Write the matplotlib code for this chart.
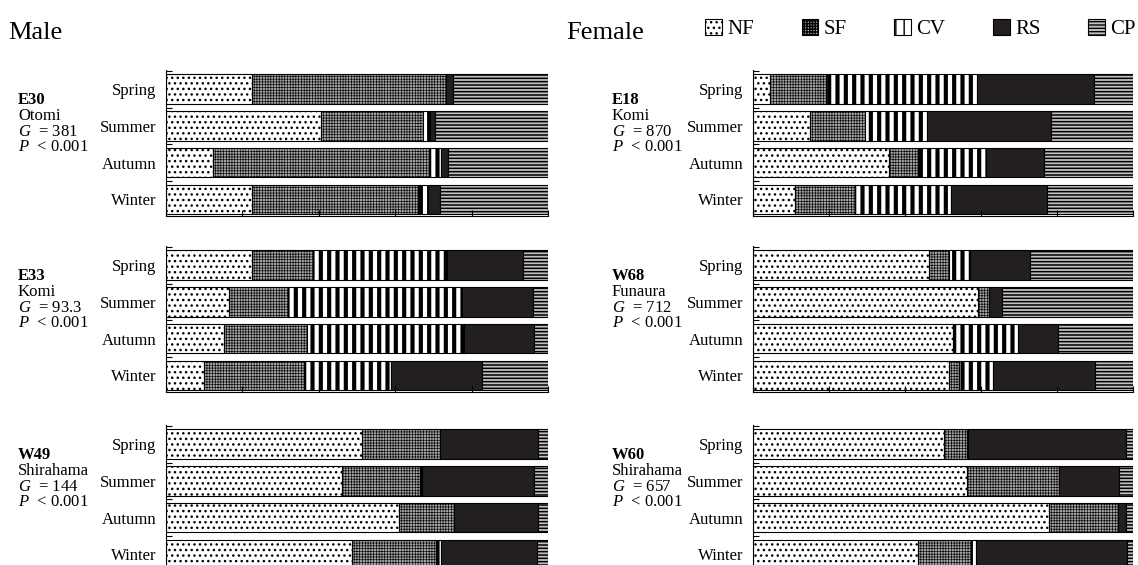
import matplotlib as mpl
mpl.use('Agg')
import matplotlib.pyplot as plt
from matplotlib.patches import Patch

plt.rcParams['font.family'] = ['Liberation Serif', 'DejaVu Serif']
plt.rcParams['mathtext.fontset'] = 'custom'
plt.rcParams['mathtext.rm'] = 'Liberation Serif'
plt.rcParams['mathtext.it'] = 'Liberation Serif:italic'
plt.rcParams['hatch.linewidth'] = 1.0

seasons = ['Spring', 'Summer', 'Autumn', 'Winter']
cats = ['NF', 'SF', 'CV', 'RS', 'CP']

# percentages per season, columns NF SF CV RS CP
e30 = [[22.6, 50.6, 0.0, 2.0, 24.8],
       [40.6, 26.7, 1.8, 1.2, 29.7],
       [12.2, 56.7, 3.0, 1.9, 26.2],
       [22.5, 43.4, 2.8, 3.0, 28.3]]
e33 = [[22.5, 15.9, 35.2, 19.9, 6.5],
       [16.4, 15.6, 45.4, 18.7, 3.9],
       [15.3, 21.6, 41.1, 18.4, 3.6],
       [10.0, 26.1, 22.9, 23.7, 17.3]]
w49 = [[51.4, 20.4, 0.0, 25.6, 2.6],
       [46.0, 20.6, 0.5, 29.2, 3.7],
       [60.9, 14.5, 0.0, 22.0, 2.6],
       [48.6, 22.1, 1.2, 25.3, 2.8]]
e18 = [[4.6, 14.7, 39.6, 30.8, 10.3],
       [14.9, 14.7, 16.1, 32.6, 21.7],
       [35.8, 7.7, 17.7, 15.5, 23.3],
       [11.0, 15.9, 25.3, 25.2, 22.6]]
w68 = [[46.2, 5.5, 5.3, 16.0, 27.0],
       [59.2, 2.9, 0.0, 3.4, 34.5],
       [52.5, 0.4, 16.8, 10.6, 19.7],
       [51.5, 2.6, 9.0, 27.0, 9.9]]
w60 = [[50.3, 6.0, 0.3, 41.6, 1.8],
       [56.3, 24.2, 0.0, 15.9, 3.6],
       [77.9, 18.2, 0.0, 2.1, 1.8],
       [43.5, 13.8, 1.3, 39.8, 1.6]]

male_ids = ['E30', 'E33', 'W49']
male_sites = ['Otomi', 'Komi', 'Shirahama']
male_g = ['381', '93.3', '144']
female_ids = ['E18', 'W68', 'W60']
female_sites = ['Komi', 'Funaura', 'Shirahama']
female_g = ['870', '712', '657']

styles = {
    'NF': dict(facecolor='white', hatch='...', hlw=1.0),
    'SF': dict(facecolor='#a6a6a6', hatch='++++++', hlw=0.45),
    'CV': dict(facecolor='white', hatch='||', hlw=3.0),
    'RS': dict(facecolor='#231f20', hatch=None, hlw=1.0),
    'CP': dict(facecolor='#c0c0c0', hatch='-----', hlw=1.1),
}


def style_patch(p, c):
    st = styles[c]
    p.set_facecolor(st['facecolor'])
    p.set_edgecolor('black')
    if st['hatch']:
        p.set_hatch(st['hatch'])
        if hasattr(p, 'set_hatch_linewidth'):
            p.set_hatch_linewidth(st['hlw'])


W, H = 1138, 565
fig = plt.figure(figsize=(W / 100, H / 100), dpi=100)


def panel(x0, x1, top, bottom, data, name, site, g, tx):
    ax = fig.add_axes([x0 / W, 1 - bottom / H, (x1 - x0) / W, (bottom - top) / H])
    left = [0.0] * len(seasons)
    for j, c in enumerate(cats):
        vals = [row[j] for row in data]
        bars = ax.barh(range(len(seasons)), vals, left=left, height=0.8,
                       linewidth=0.8)
        for b in bars:
            style_patch(b, c)
        left = [l + v for l, v in zip(left, vals)]
    ax.set_xlim(0, 100)
    ax.set_ylim(3.45, -0.52)
    ax.set_xticks([0, 20, 40, 60, 80, 100])
    ax.set_xticklabels([])
    ax.set_yticks([-0.5, 0.5, 1.5, 2.5])
    ax.set_yticklabels([])
    ax.set_yticks(range(len(seasons)), minor=True)
    ax.set_yticklabels(seasons, minor=True, fontsize=12)
    ax.tick_params(axis='y', which='minor', length=0, pad=7)
    ax.tick_params(axis='both', which='major', direction='in', length=4,
                   width=0.8)
    for s in ['top', 'right']:
        ax.spines[s].set_visible(False)
    for s in ['left', 'bottom']:
        ax.spines[s].set_linewidth(0.8)
    y = top + 30
    fig.text(tx / W, 1 - y / H, name, fontsize=12, fontweight='bold',
             va='center')
    fig.text(tx / W, 1 - (y + 16) / H, site, fontsize=12, va='center')
    fig.text(tx / W, 1 - (y + 32) / H, r'$\it{G}$  = ' + g, fontsize=12,
             va='center')
    fig.text(tx / W, 1 - (y + 47) / H, r'$\it{P}$  < 0.001', fontsize=12,
             va='center')
    return ax


tops = [70, 246, 425]
male_data = [e30, e33, w49]
female_data = [e18, w68, w60]
for i in range(3):
    panel(166, 548, tops[i], tops[i] + 146, male_data[i], male_ids[i],
          male_sites[i], male_g[i], 18)
    panel(753, 1133, tops[i], tops[i] + 146, female_data[i], female_ids[i],
          female_sites[i], female_g[i], 612)

fig.text(8 / W, 1 - 33 / H, 'Male', fontsize=19, va='center')
fig.text(566 / W, 1 - 33 / H, 'Female', fontsize=19, va='center')

handles = []
for c in cats:
    p = Patch(label=c, linewidth=0.8)
    style_patch(p, c)
    handles.append(p)
fig.legend(handles=handles, labels=cats, ncol=5, loc='center left',
           bbox_to_anchor=(705 / W, 1 - 29 / H), frameon=False, fontsize=15,
           handlelength=0.8, handleheight=0.8, handletextpad=0.25,
           columnspacing=2.3, borderaxespad=0, borderpad=0)

fig.savefig('out.png', dpi=100)
